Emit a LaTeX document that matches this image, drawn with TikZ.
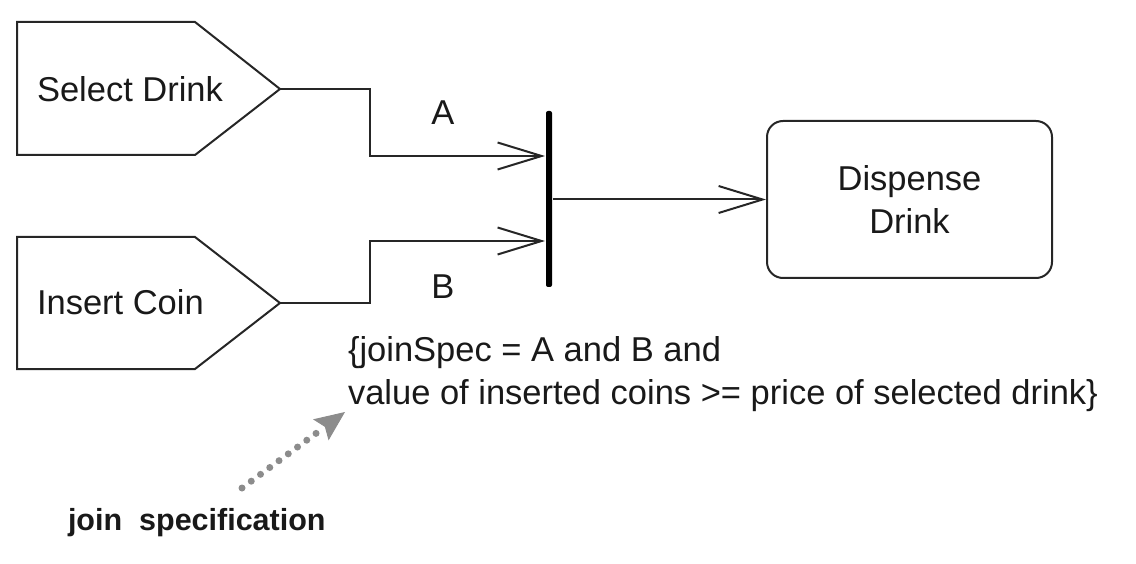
\documentclass[tikz,border=0pt]{standalone}
\usepackage{fontspec}
\setmainfont{Liberation Sans}
\usetikzlibrary{arrows.meta}
\begin{document}
\begin{tikzpicture}[x=1pt,y=-1pt,
  line width=2pt,
  every node/.style={font=\fontsize{34.5}{43}\selectfont, text=black!90},
  shape line/.style={draw=black!85, line join=miter},
  flow/.style={draw=black!85, -{Straight Barb[length=44pt,width=27pt,line width=2pt]}},
  lbl/.style={inner sep=0pt}]
\useasboundingbox (0,0) rectangle (1136,564);
% signal shapes
\draw[shape line] (17,22) -- (195,22) -- (280,89) -- (195,155) -- (17,155) -- cycle;
\coordinate (sdout) at (280,89);
\node[lbl, anchor=west] (sd) at (36,89) {Select Drink};
\draw[shape line] (17,237) -- (195,237) -- (280,303) -- (195,369) -- (17,369) -- cycle;
\coordinate (icout) at (280,303);
\node[lbl, anchor=west] (ic) at (36,302) {Insert Coin};
% join bar
\node[fill=black, minimum width=6pt, minimum height=176pt, inner sep=0pt, rounded corners=2pt] (bar) at (549,199) {};
% action
\node[draw=black!85, rounded corners=16pt, minimum width=285pt, minimum height=157pt, align=center, inner sep=0pt] (dd) at (909.5,199.5) {Dispense\\Drink};
% connectors
\coordinate (ka1) at (370,89);
\coordinate (ka2) at (370,156);
\coordinate (kb1) at (370,303);
\coordinate (kb2) at (370,241);
\draw[flow] (sdout) -- (ka1) -- (ka2) -- (bar.west |- ka2);
\draw[flow] (icout) -- (kb1) -- (kb2) -- (bar.west |- kb2);
\draw[flow] (bar.east |- dd.west) -- (dd.west);
% labels
\node[lbl] (la) at (443,113) {A};
\node[lbl] (lb) at (443,287) {B};
\node[lbl, anchor=base west] (js1) at (347,361) {\{joinSpec = A and B and};
\node[lbl, anchor=base west] (js2) at (347,404) {value of inserted coins >= price of selected drink\}};
% annotation
\node[lbl, anchor=west, font=\fontsize{30.5}{36}\selectfont\bfseries] (note) at (67,523) {join\ \ specification};
\coordinate (nstart) at (242,488);
\coordinate (ntip) at (345,412);
\draw[draw=black!45, line width=7pt, line cap=round, dash pattern=on 0pt off 11.5pt,
  -{Stealth[length=30pt,width=26pt,inset=5pt,fill=black!45,line width=1pt]}] (nstart) -- (ntip);
\end{tikzpicture}
\end{document}
